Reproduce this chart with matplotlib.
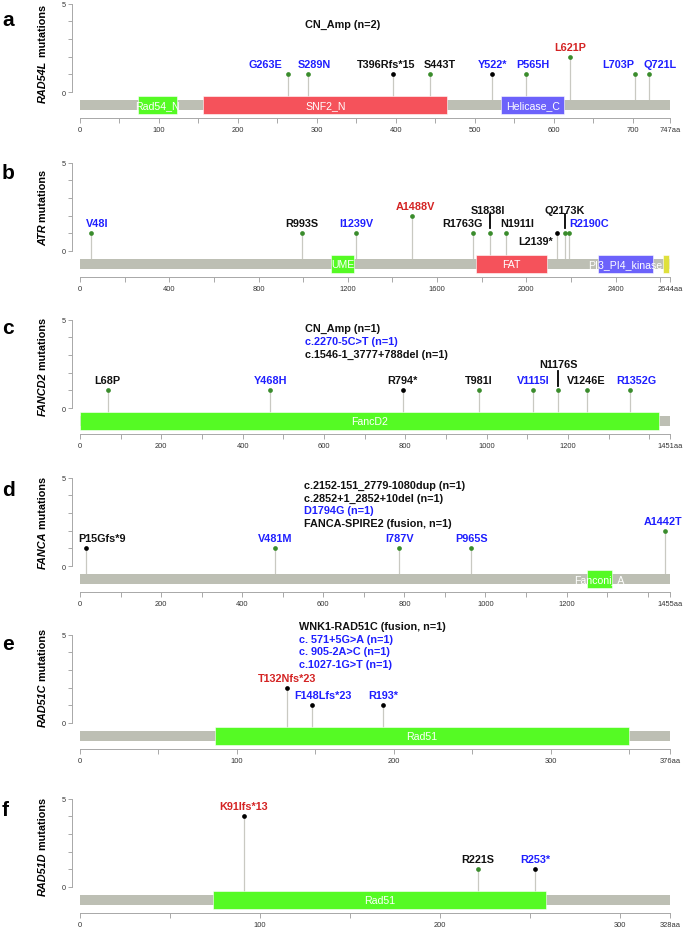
import matplotlib
matplotlib.use("Agg")
import matplotlib.pyplot as plt
from matplotlib.patches import Rectangle
from matplotlib import transforms

plt.rcParams['font.family'] = ['Liberation Sans', 'DejaVu Sans']

# ---------------- data ----------------
genes = ["RAD54L", "ATR", "FANCD2", "FANCA", "RAD51C", "RAD51D"]
panel_letters = ["a", "b", "c", "d", "e", "f"]
lengths = [747, 2644, 1451, 1455, 376, 328]

# domains: names, starts, ends, kind
rad54l_dom_names = ["Rad54_N", "SNF2_N", "Helicase_C"]
rad54l_dom_start = [73, 156, 533]
rad54l_dom_end = [123, 465, 613]
rad54l_dom_kind = ["g", "r", "u"]

atr_dom_names = ["UME", "FAT", "PI3_PI4_kinase", ""]
atr_dom_start = [1125, 1773, 2322, 2614]
atr_dom_end = [1229, 2092, 2568, 2641]
atr_dom_kind = ["g", "r", "u", "y"]

fancd2_dom_names = ["FancD2"]
fancd2_dom_start = [1]
fancd2_dom_end = [1424]
fancd2_dom_kind = ["g"]

fanca_dom_names = ["Fanconi_A"]
fanca_dom_start = [1250]
fanca_dom_end = [1313]
fanca_dom_kind = ["g"]

rad51c_dom_names = ["Rad51"]
rad51c_dom_start = [86]
rad51c_dom_end = [350]
rad51c_dom_kind = ["g"]

rad51d_dom_names = ["Rad51"]
rad51d_dom_start = [74]
rad51d_dom_end = [259]
rad51d_dom_kind = ["g"]

# mutations: position, label, count, dot type, label colour class
rad54l_pos = [263, 289, 396, 443, 522, 565, 621, 703, 721]
rad54l_lab = ["G263E", "S289N", "T396Rfs*15", "S443T", "Y522*", "P565H", "L621P", "L703P", "Q721L"]
rad54l_cnt = [1, 1, 1, 1, 1, 1, 2, 1, 1]
rad54l_dot = ["mis", "mis", "trunc", "mis", "trunc", "mis", "mis", "mis", "mis"]
rad54l_txt = ["b", "b", "k", "k", "b", "b", "r", "b", "b"]

atr_pos = [48, 993, 1239, 1488, 1763, 1838, 1911, 2139, 2173, 2190]
atr_lab = ["V48I", "R993S", "I1239V", "A1488V", "R1763G", "S1838I", "N1911I", "L2139*", "Q2173K", "R2190C"]
atr_cnt = [1, 1, 1, 2, 1, 1, 1, 1, 1, 1]
atr_dot = ["mis", "mis", "mis", "mis", "mis", "mis", "mis", "trunc", "mis", "mis"]
atr_txt = ["b", "k", "b", "r", "k", "k", "k", "k", "k", "b"]

fancd2_pos = [68, 468, 794, 981, 1115, 1176, 1246, 1352]
fancd2_lab = ["L68P", "Y468H", "R794*", "T981I", "V1115I", "N1176S", "V1246E", "R1352G"]
fancd2_cnt = [1, 1, 1, 1, 1, 1, 1, 1]
fancd2_dot = ["mis", "mis", "trunc", "mis", "mis", "mis", "mis", "mis"]
fancd2_txt = ["k", "b", "k", "k", "b", "k", "k", "b"]

fanca_pos = [15, 481, 787, 965, 1442]
fanca_lab = ["P15Gfs*9", "V481M", "I787V", "P965S", "A1442T"]
fanca_cnt = [1, 1, 1, 1, 2]
fanca_dot = ["trunc", "mis", "mis", "mis", "mis"]
fanca_txt = ["k", "b", "b", "b", "b"]

rad51c_pos = [132, 148, 193]
rad51c_lab = ["T132Nfs*23", "F148Lfs*23", "R193*"]
rad51c_cnt = [2, 1, 1]
rad51c_dot = ["trunc", "trunc", "trunc"]
rad51c_txt = ["r", "b", "b"]

rad51d_pos = [91, 221, 253]
rad51d_lab = ["K91Ifs*13", "R221S", "R253*"]
rad51d_cnt = [4, 1, 1]
rad51d_dot = ["trunc", "mis", "trunc"]
rad51d_txt = ["r", "k", "b"]

# other alterations (text notes)
rad54l_notes = ["CN_Amp (n=2)"]
rad54l_notes_col = ["k"]
atr_notes = []
atr_notes_col = []
fancd2_notes = ["CN_Amp (n=1)", "c.2270-5C>T (n=1)", "c.1546-1_3777+788del (n=1)"]
fancd2_notes_col = ["k", "b", "k"]
fanca_notes = ["c.2152-151_2779-1080dup (n=1)", "c.2852+1_2852+10del (n=1)", "D1794G (n=1)", "FANCA-SPIRE2 (fusion, n=1)"]
fanca_notes_col = ["k", "k", "b", "k"]
rad51c_notes = ["WNK1-RAD51C (fusion, n=1)", "c. 571+5G>A (n=1)", "c. 905-2A>C (n=1)", "c.1027-1G>T (n=1)"]
rad51c_notes_col = ["k", "b", "b", "b"]
rad51d_notes = []
rad51d_notes_col = []

tick_minor = [50, 200, 100, 100, 50, 50]
tick_major = [100, 400, 200, 200, 100, 100]

panels = [
    (rad54l_dom_names, rad54l_dom_start, rad54l_dom_end, rad54l_dom_kind,
     rad54l_pos, rad54l_lab, rad54l_cnt, rad54l_dot, rad54l_txt, rad54l_notes, rad54l_notes_col),
    (atr_dom_names, atr_dom_start, atr_dom_end, atr_dom_kind,
     atr_pos, atr_lab, atr_cnt, atr_dot, atr_txt, atr_notes, atr_notes_col),
    (fancd2_dom_names, fancd2_dom_start, fancd2_dom_end, fancd2_dom_kind,
     fancd2_pos, fancd2_lab, fancd2_cnt, fancd2_dot, fancd2_txt, fancd2_notes, fancd2_notes_col),
    (fanca_dom_names, fanca_dom_start, fanca_dom_end, fanca_dom_kind,
     fanca_pos, fanca_lab, fanca_cnt, fanca_dot, fanca_txt, fanca_notes, fanca_notes_col),
    (rad51c_dom_names, rad51c_dom_start, rad51c_dom_end, rad51c_dom_kind,
     rad51c_pos, rad51c_lab, rad51c_cnt, rad51c_dot, rad51c_txt, rad51c_notes, rad51c_notes_col),
    (rad51d_dom_names, rad51d_dom_start, rad51d_dom_end, rad51d_dom_kind,
     rad51d_pos, rad51d_lab, rad51d_cnt, rad51d_dot, rad51d_txt, rad51d_notes, rad51d_notes_col),
]

# ---------------- layout / style ----------------
W, H = 685, 929
TXT_COL = {"b": "#1f1fff", "r": "#d42424", "k": "#111111"}
DOT_COL = {"mis": "#3a8c2c", "trunc": "#000000"}
DOM_COL = {"g": "#55fa24", "r": "#f5525b", "u": "#6c62fb", "y": "#dfe03c"}
BAR_COL = "#bdbfb4"
STEM_COL = "#c9c9c2"
AXIS_COL = "#a8a8a8"
LAB_FS = 7.8

zero_px = [93, 252, 409, 567, 724, 888]
ylabel_center_px = [54, 208, 367, 523, 678, 847]
letter_base_px = [26, 179, 334, 496, 650, 816]
notes_top = [3.84, None, 4.52, 4.58, 5.48, None]
notes_x = [0.381, 0.381, 0.381, 0.379, 0.371, 0.38]
NOTE_STEP = 0.72
UNIT = 17.7
YLO, YHI = -2.2, 5.6
LEFT_PX, RIGHT_PX = 80, 670

# label adjustments: label -> (dx in aa, y override, ha, connector (y0,y1))
label_adj = {
    0: {"G263E": (-28, None, "center", None), "S289N": (8, None, "center", None),
        "S443T": (12, None, "center", None), "P565H": (8, None, "center", None),
        "L703P": (-21, None, "center", None), "Q721L": (14, None, "center", None),
        "T396Rfs*15": (-8, None, "center", None)},
    1: {"V48I": (29, None, "center", None), "A1488V": (14, None, "center", None),
        "R1763G": (-47, None, "center", None), "N1911I": (48, None, "center", None),
        "S1838I": (-10, 2.3, "center", (1.3, 2.07)),
        "Q2173K": (0, 2.3, "center", (1.3, 2.07)),
        "L2139*": (-18, 0.58, "right", None),
        "R2190C": (2, None, "left", None)},
    2: {"R1352G": (15, None, "center", None),
        "N1176S": (0, 2.47, "center", (1.27, 2.1))},
    3: {"P15Gfs*9": (39, None, "center", None), "A1442T": (-5, None, "center", None)},
    4: {"F148Lfs*23": (7, None, "center", None)},
    5: {},
}

fig = plt.figure(figsize=(W / 100, H / 100), dpi=100)
renderer = fig.canvas.get_renderer()

for i in range(6):
    (dn, ds, de, dk, pos, lab, cnt, dot, txt, notes, notes_col) = panels[i]
    L = lengths[i]
    p0 = zero_px[i]
    top_px = p0 - YHI * UNIT
    bot_px = p0 - YLO * UNIT
    ax = fig.add_axes([LEFT_PX / W, 1 - bot_px / H, (RIGHT_PX - LEFT_PX) / W, (bot_px - top_px) / H])
    ax.set_xlim(0, L)
    ax.set_ylim(YLO, YHI)
    ax.patch.set_alpha(0)

    for s in ["top", "right"]:
        ax.spines[s].set_visible(False)
    ax.spines["left"].set_position(("outward", 5.8))
    ax.spines["left"].set_bounds(0, 5)
    ax.spines["bottom"].set_position(("data", -1.47))
    ax.spines["bottom"].set_bounds(0, L)
    for s in ["left", "bottom"]:
        ax.spines[s].set_color(AXIS_COL)
        ax.spines[s].set_linewidth(0.7)

    ax.set_yticks(range(6))
    ax.set_yticklabels(["0", "", "", "", "", "5"])
    xt = list(range(0, L, tick_minor[i])) + [L]
    xl = [str(v) if (v % tick_major[i] == 0 and L - v > 0.05 * L) else "" for v in xt[:-1]] + [f"{L}aa"]
    ax.set_xticks(xt)
    ax.set_xticklabels(xl)
    ax.tick_params(axis="x", direction="out", length=3.6, width=0.7, color=AXIS_COL,
                   labelsize=5.4, labelcolor="#333333", pad=2)
    ax.tick_params(axis="y", direction="out", length=3, width=0.7, color=AXIS_COL,
                   labelsize=5.2, labelcolor="#333333", pad=1.5)

    # protein backbone
    ax.add_patch(Rectangle((0, -1.02), L, 0.58, facecolor=BAR_COL, edgecolor="none", zorder=2))
    # domains
    for n, s0, e0, k in zip(dn, ds, de, dk):
        ax.add_patch(Rectangle((s0, -1.26), e0 - s0, 1.04, facecolor=DOM_COL[k],
                               edgecolor="white", linewidth=0.4, zorder=3))
        if n:
            ax.text((s0 + e0) / 2, -0.74, n, ha="center", va="center", color="white",
                    fontsize=7.6, zorder=4)

    # lollipops
    ax.vlines(pos, -0.44, cnt, color=STEM_COL, linewidth=0.9, zorder=1)
    for p, c, d in zip(pos, cnt, dot):
        ax.plot([p], [c], marker="o", markersize=3.4, color=DOT_COL[d],
                markeredgewidth=0, zorder=5)
    adj = label_adj[i]
    for p, l, c, t in zip(pos, lab, cnt, txt):
        dx, yo, ha, con = adj.get(l, (0, None, "center", None))
        yy = c + 0.56 if yo is None else yo
        ax.text(p + dx, yy, l, ha=ha, va="center", fontsize=LAB_FS, fontweight="bold",
                color=TXT_COL[t], zorder=6)
        if con is not None:
            ax.plot([p, p], list(con), color="black", linewidth=1.3, zorder=6)

    # notes
    if notes:
        tr = transforms.blended_transform_factory(ax.transAxes, ax.transData)
        for j, (nt, nc) in enumerate(zip(notes, notes_col)):
            ax.text(notes_x[i], notes_top[i] - j * NOTE_STEP, nt, transform=tr, ha="left",
                    va="center", fontsize=LAB_FS, fontweight="bold", color=TXT_COL[nc])

    # panel letter
    fig.text(2 / W, 1 - letter_base_px[i] / H, panel_letters[i], fontsize=15,
             fontweight="bold", ha="left", va="baseline")

    # y label: italic gene + " mutations"
    t1 = fig.text(0, 0, genes[i], rotation=90, fontsize=7.8, fontweight="bold",
                  fontstyle="italic", ha="left", va="center", rotation_mode="anchor")
    t2 = fig.text(0, 0, " mutations", rotation=90, fontsize=7.8, fontweight="bold",
                  ha="left", va="center", rotation_mode="anchor")
    h1 = t1.get_window_extent(renderer).height
    h2 = t2.get_window_extent(renderer).height
    yc = H - ylabel_center_px[i]
    y0 = yc - (h1 + h2) / 2
    t1.set_position((43 / W, y0 / H))
    t2.set_position((43 / W, (y0 + h1) / H))

fig.savefig("out.png", dpi=100)
